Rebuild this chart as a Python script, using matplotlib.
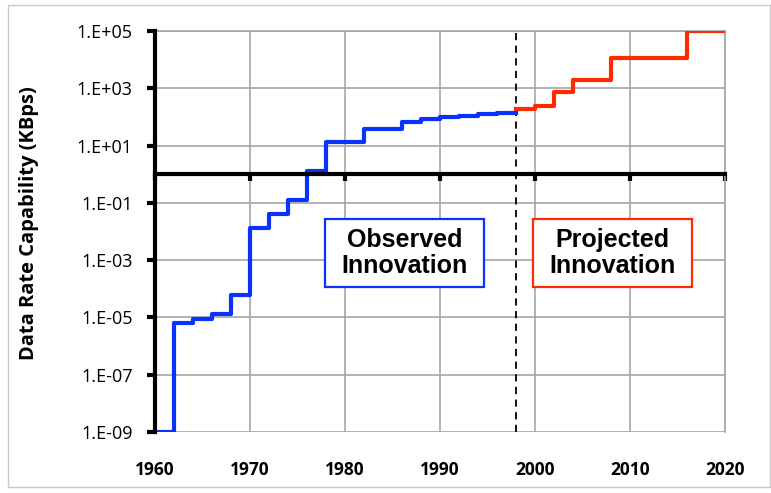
import numpy as np

import matplotlib
matplotlib.use('Agg')
import matplotlib.pyplot as plt
from matplotlib.patches import Rectangle
from matplotlib.ticker import FuncFormatter


# observed data rate steps (KBps), held until the next year
observed_years = [1960, 1962, 1964, 1966, 1968, 1970, 1972, 1974, 1976, 1978,
                  1982, 1986, 1988, 1990, 1992, 1994, 1996, 1998]
observed_rates = [1e-9, 6.3e-6, 9e-6, 1.3e-5, 6e-5, 1.3e-2, 4e-2, 1.3e-1, 1.3, 13.5,
                  38, 64, 88, 97, 108, 123, 140, 140]

# projected steps
projected_years = [1998, 2000, 2002, 2004, 2008, 2016, 2020]
projected_rates = [195, 245, 760, 1950, 11300, 1e5, 1e5]

split_year = 1998
x_ticks = [1960, 1970, 1980, 1990, 2000, 2010, 2020]
y_ticks = [1e-9, 1e-7, 1e-5, 1e-3, 1e-1, 1e1, 1e3, 1e5]

tick_font = 'Open Sans'
box_font = 'Liberation Sans'


def exp_label(v, pos):
    return '1.E{:+03d}'.format(int(round(np.log10(v))))


fig = plt.figure(figsize=(7.71, 4.93), dpi=100)
ax = fig.add_axes([0.201, 0.1237, 0.7393, 0.8134])

ax.plot(observed_years, observed_rates, drawstyle='steps-post',
        color='#0A32FF', lw=3, zorder=3)
ax.plot(projected_years, projected_rates, drawstyle='steps-post',
        color='#FF2A00', lw=3, zorder=3)
ax.axvline(split_year, color='black', lw=1.3, ls=(0, (4, 3)), zorder=2)

ax.set_yscale('log')
ax.set_xlim(1960, 2020)
ax.set_ylim(1e-9, 1e5)
ax.set_yticks(y_ticks)
ax.yaxis.set_major_formatter(FuncFormatter(exp_label))
ax.minorticks_off()
ax.set_xticks(x_ticks)

ax.grid(True, color='#A6A6A6', lw=1.2, zorder=0)
ax.set_axisbelow(True)

# x axis crosses at 1 KBps
ax.spines['bottom'].set_position(('data', 1))
ax.spines['bottom'].set_linewidth(3)
ax.spines['bottom'].set_zorder(4)
ax.spines['left'].set_linewidth(3)
ax.spines['left'].set_zorder(4)
for s in ['top', 'right']:
    ax.spines[s].set_color('#A6A6A6')
    ax.spines[s].set_linewidth(1.2)

ax.tick_params(axis='x', direction='out', length=5, width=3, labelbottom=False)
ax.tick_params(axis='y', direction='out', length=6, width=3, pad=10,
               labelsize=13)
for lbl in ax.get_yticklabels():
    lbl.set_fontfamily(tick_font)

# year labels at the bottom of the plot
sec = ax.secondary_xaxis(0)
sec.set_xticks(x_ticks)
sec.spines['bottom'].set_visible(False)
sec.tick_params(length=0, pad=21, labelsize=12.5)
for lbl in sec.get_xticklabels():
    lbl.set_fontfamily(tick_font)
    lbl.set_fontweight('bold')

ax.set_ylabel('Data Rate Capability (KBps)', fontsize=14.5, fontweight='bold',
              family=tick_font)
ax.yaxis.set_label_coords(-0.2035, 0.522)

# annotation boxes
for x0, txt, col in [(0.2982, 'Observed\nInnovation', '#0A32FF'),
                     (0.6632, 'Projected\nInnovation', '#FF2A00')]:
    ax.add_patch(Rectangle((x0, 0.3616), 0.2789, 0.1696, transform=ax.transAxes,
                           facecolor='white', edgecolor=col, lw=1.6, zorder=5))
    ax.text(x0 + 0.1395, 0.4464, txt, transform=ax.transAxes, ha='center',
            va='center', fontsize=18, fontweight='bold', family=box_font,
            linespacing=1.1, zorder=6)

# light frame around the figure
fig.patches.append(Rectangle((0.0104, 0.0122), 0.9883, 0.9777,
                             transform=fig.transFigure, fill=False,
                             edgecolor='#C8C8C8', lw=1))

fig.savefig('out.png', dpi=100, facecolor='white')
